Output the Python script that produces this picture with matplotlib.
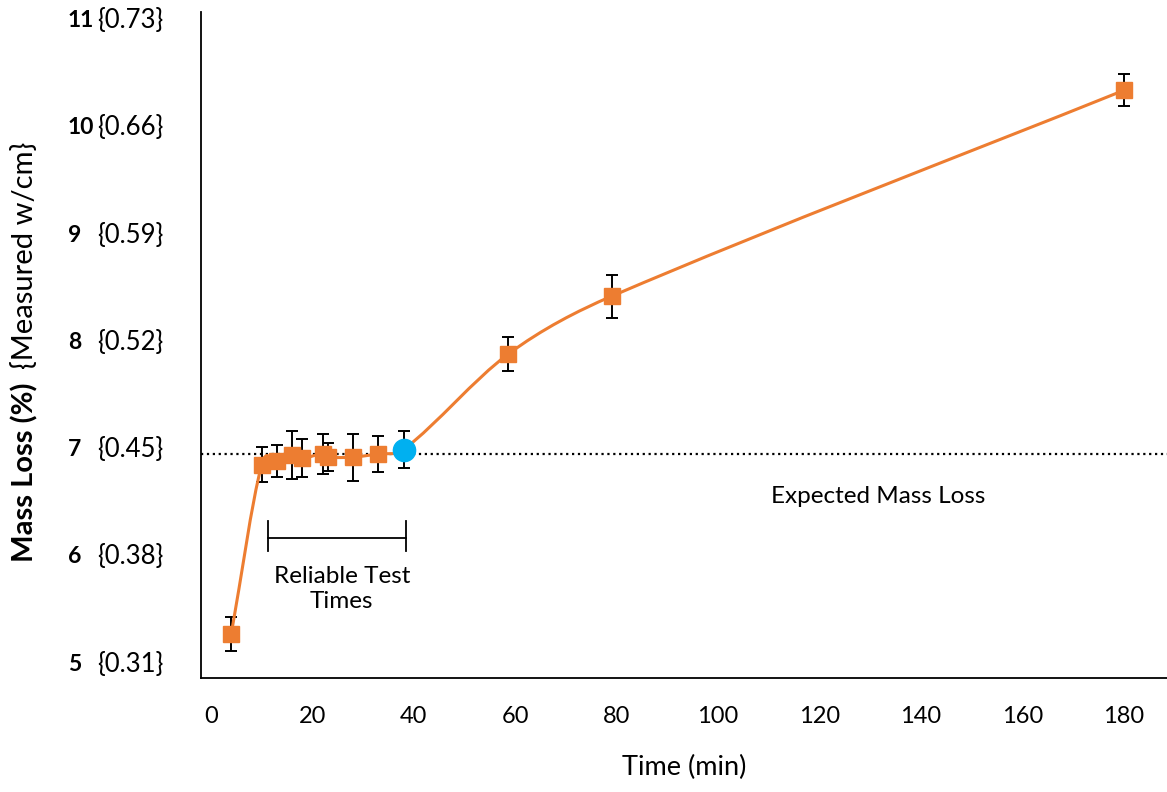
import numpy as np
import matplotlib.pyplot as plt
from matplotlib.path import Path
from matplotlib.patches import PathPatch

plt.rcParams['font.family'] = ['Lato', 'DejaVu Sans']

# data
time_min = [4, 10, 13, 16, 18, 22, 23, 28, 33, 38, 58.6, 79, 180]
mass_loss = [5.28, 6.86, 6.89, 6.95, 6.92, 6.96, 6.93, 6.93, 6.96, 7.00, 7.89, 8.43, 10.35]
err = [0.16, 0.16, 0.15, 0.22, 0.18, 0.19, 0.13, 0.22, 0.17, 0.17, 0.16, 0.20, 0.15]
blue_idx = 9            # the 38 min point drawn as a blue circle
expected = 6.96

y_ticks = [5, 6, 7, 8, 9, 10, 11]
y_wcm = ['{0.31}', '{0.38}', '{0.45}', '{0.52}', '{0.59}', '{0.66}', '{0.73}']
x_ticks = [0, 20, 40, 60, 80, 100, 120, 140, 160, 180]

ORANGE = '#ED7D31'
BLUE = '#00B0F0'

fig = plt.figure(figsize=(11.67, 7.92), dpi=100)
ax = fig.add_axes([0.1722, 0.1439, 0.8278, 0.8409])
ax.set_xlim(-1.97, 188.5)
ax.set_ylim(4.87, 11.08)

# smoothed line: cubic Hermite through the points, drawn as Bezier path
x = np.array(time_min, float)
y = np.array(mass_loss, float)
n = len(x)
slope = np.empty(n)
slope[0] = (y[1] - y[0]) / (x[1] - x[0])
slope[-1] = (y[-1] - y[-2]) / (x[-1] - x[-2])
for i in range(1, n - 1):
    slope[i] = (y[i + 1] - y[i - 1]) / (x[i + 1] - x[i - 1])
verts = [(x[0], y[0])]
codes = [Path.MOVETO]
for i in range(n - 1):
    h = x[i + 1] - x[i]
    verts += [(x[i] + h / 3, y[i] + slope[i] * h / 3),
              (x[i + 1] - h / 3, y[i + 1] - slope[i + 1] * h / 3),
              (x[i + 1], y[i + 1])]
    codes += [Path.CURVE4] * 3
ax.add_patch(PathPatch(Path(verts, codes), facecolor='none', edgecolor=ORANGE, lw=2.2, zorder=3))

# error bars
ax.errorbar(time_min, mass_loss, yerr=err, fmt='none', ecolor='black',
            elinewidth=1.4, capsize=4, capthick=1.4, zorder=2)

sq_x = [t for i, t in enumerate(time_min) if i != blue_idx]
sq_y = [m for i, m in enumerate(mass_loss) if i != blue_idx]
ax.plot(sq_x, sq_y, 's', color=ORANGE, markersize=11, zorder=4)
ax.plot(time_min[blue_idx], mass_loss[blue_idx], 'o', color=BLUE, markersize=16, zorder=5)

# expected mass loss reference line
ax.axhline(expected, color='black', linestyle=':', lw=1.6, zorder=1)
ax.text(131.5, 6.56, 'Expected Mass Loss', ha='center', va='center', fontsize=17.5)

# reliable test times bracket
ax.plot([11.2, 38.5], [6.18, 6.18], color='black', lw=1.3)
ax.plot([11.2, 11.2], [6.05, 6.33], color='black', lw=1.3)
ax.plot([38.5, 38.5], [6.05, 6.33], color='black', lw=1.3)
ax.text(25.8, 5.70, 'Reliable Test\nTimes', ha='center', va='center', fontsize=17.5,
        linespacing=1.25)

# axes styling
for s in ['top', 'right']:
    ax.spines[s].set_visible(False)
for s in ['left', 'bottom']:
    ax.spines[s].set_linewidth(1.3)
ax.set_xticks(x_ticks)
ax.tick_params(axis='x', length=0, pad=20, labelsize=17)
ax.set_yticks([])
ax.set_xlabel('Time (min)', fontsize=19.5, labelpad=20)

# y tick labels: bold % plus {w/cm}
for yv, lab in zip(y_ticks, y_wcm):
    ax.annotate(str(yv), xy=(0, yv), xycoords=('figure pixels', 'data'),
                xytext=(68, 0), textcoords='offset pixels',
                ha='left', va='center', fontsize=16.5, fontweight='bold')
    ax.annotate(lab, xy=(0, yv), xycoords=('figure pixels', 'data'),
                xytext=(97, 0), textcoords='offset pixels',
                ha='left', va='center', fontsize=18.5)

fig.text(25 / 1167, 1 - 472 / 792, 'Mass Loss (%)', rotation=90, ha='center', va='center',
         fontsize=21, fontweight='bold')
fig.text(25 / 1167, 1 - 255 / 792, '{Measured w/cm}', rotation=90, ha='center', va='center',
         fontsize=21)

fig.savefig('out.png', dpi=100)
